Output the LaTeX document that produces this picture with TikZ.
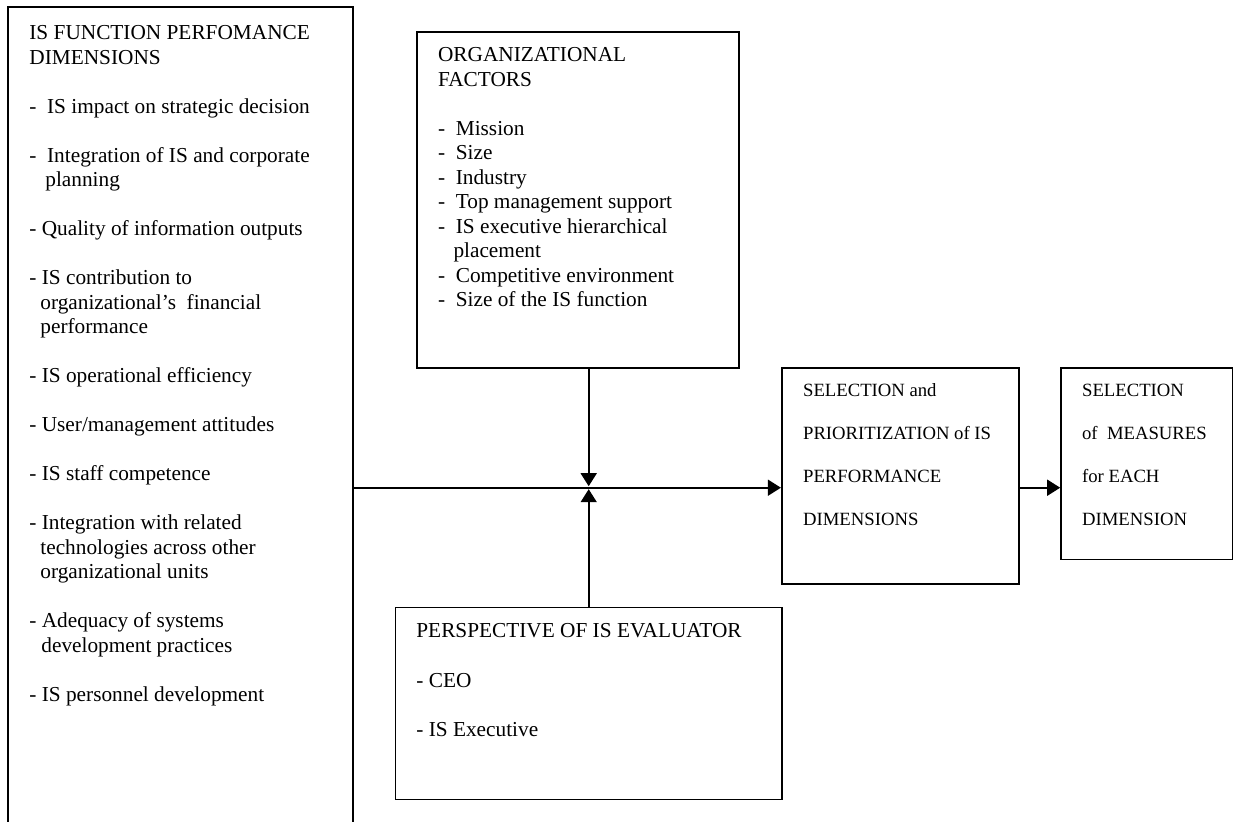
\documentclass[tikz,border=0pt]{standalone}
\usepackage{fontspec}
\setmainfont{Liberation Serif}
\usetikzlibrary{arrows.meta,fit}

\begin{document}
\begin{tikzpicture}[x=0.5pt,y=-0.5pt,
  box/.style={draw,line width=0.8pt,inner sep=0pt,rectangle},
  txt/.style={anchor=base west,inner sep=0pt,align=left,
    font=\fontsize{10.65pt}{12.25pt}\selectfont},
  wide/.style={anchor=base west,inner sep=0pt,align=left,
    font=\fontsize{9.35pt}{21.4pt}\selectfont},
  arr/.style={line width=0.8pt,-{Triangle[length=6.5pt,width=8pt]}}]

\useasboundingbox (0,0) rectangle (1233,821);

% frames
\node[box,fit={(8,7) (353,840)}] (dims) {};
\node[box,fit={(416.7,31.7) (739,367.7)}] (org) {};
\node[box,fit={(395.3,607.3) (782,799.3)}] (persp) {};
\node[box,fit={(781.7,367.7) (1019,584)}] (sel) {};
\node[box,fit={(1061,367.7) (1232.4,559.3)}] (meas) {};

% texts (placed by the baseline of their last line)
\node[txt] (dimstext) at (29,701) {IS FUNCTION PERFOMANCE\\
DIMENSIONS\\[12.25pt]
-\ \ IS impact on strategic decision\\[12.25pt]
-\ \ Integration of IS and corporate\\
\hspace*{8pt}planning\\[12.25pt]
- Quality of information outputs\\[12.25pt]
- IS contribution to\\
\hspace*{5.5pt}organizational’s\ \ financial\\
\hspace*{5.5pt}performance\\[12.25pt]
- IS operational efficiency\\[12.25pt]
- User/management attitudes\\[12.25pt]
- IS staff competence\\[12.25pt]
- Integration with related\\
\hspace*{5.5pt}technologies across other\\
\hspace*{5.5pt}organizational units\\[12.25pt]
- Adequacy of systems\\
\hspace*{6pt}development practices\\[12.25pt]
- IS personnel development};

\node[txt] (orgtext) at (437.7,306.7) {ORGANIZATIONAL\\
FACTORS\\[12.25pt]
-\ \ Mission\\
-\ \ Size\\
-\ \ Industry\\
-\ \ Top management support\\
-\ \ IS executive hierarchical\\
\hspace*{7.7pt}placement\\
-\ \ Competitive environment\\
-\ \ Size of the IS function};

\node[txt] (persptext) at (416,736.7) {PERSPECTIVE OF IS EVALUATOR\\[12.5pt]
- CEO\\[12.5pt]
- IS Executive};

\node[wide] (seltext) at (802.7,525) {SELECTION and\\
PRIORITIZATION of IS\\
PERFORMANCE\\
DIMENSIONS};

\node[wide] (meastext) at (1081.7,525) {SELECTION\\
of\ \ MEASURES\\
for EACH\\
DIMENSION};

% connectors
\coordinate (j) at (588.7,487.7);
\coordinate (jt) at (588.7,486.2);
\coordinate (jb) at (588.7,489.2);
\draw[arr] (dims.east |- j) -- (sel.west |- j);
\draw[arr] (j |- org.south) -- (jt);
\draw[arr] (j |- persp.north) -- (jb);
\draw[arr] (sel.east |- j) -- (meas.west |- j);
\end{tikzpicture}
\end{document}
